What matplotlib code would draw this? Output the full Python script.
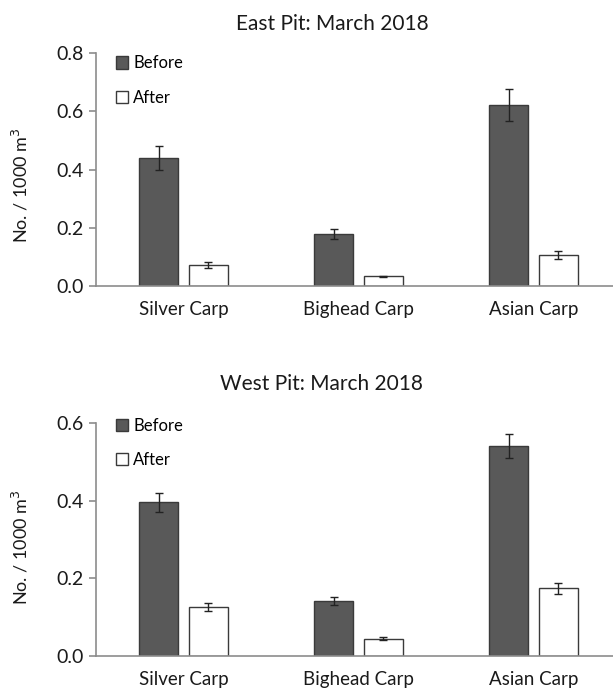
import matplotlib
matplotlib.use("Agg")
import matplotlib.pyplot as plt
import numpy as np
from matplotlib.patches import Patch

plt.rcParams['font.family'] = ['Lato', 'DejaVu Sans']

categories = ["Silver Carp", "Bighead Carp", "Asian Carp"]
series = ["Before", "After"]

east_before = [0.440, 0.179, 0.622]
east_before_err = [0.040, 0.017, 0.055]
east_after = [0.072, 0.033, 0.107]
east_after_err = [0.011, 0.003, 0.015]

west_before = [0.396, 0.142, 0.541]
west_before_err = [0.024, 0.010, 0.031]
west_after = [0.127, 0.045, 0.175]
west_after_err = [0.010, 0.003, 0.014]

titles = ["East Pit: March 2018", "West Pit: March 2018"]
ylims = [0.8, 0.6]
yticks = [[0.0, 0.2, 0.4, 0.6, 0.8], [0.0, 0.2, 0.4, 0.6]]

fig = plt.figure(figsize=(6.13, 6.96), dpi=100)
W, H = 613, 696
axL = 96 / W
axW = (621 - 96) / W
ax1 = fig.add_axes([axL, 1 - 286 / H, axW, (286 - 53.3) / H])
ax2 = fig.add_axes([axL, 1 - 656 / H, axW, (656 - 423.3) / H])

spine_c = "#8c8c8c"
dark = "#595959"
x = np.arange(len(categories))
bw = 0.225
off = 0.142

panels = [
    (ax1, east_before, east_before_err, east_after, east_after_err),
    (ax2, west_before, west_before_err, west_after, west_after_err),
]
title_pads = [17, 24]
title_xs = [0.45, 0.43]
ylabel_ys = [0.432, 0.47]
legend_ys = [1.02, 1.053]
for i, (ax, b, be, a, ae) in enumerate(panels):
    ax.bar(x - off, b, bw, color=dark, edgecolor="#3a3a3a", linewidth=1.0,
           yerr=be, error_kw=dict(ecolor="#222222", elinewidth=1.0, capsize=3, capthick=1.0), zorder=2)
    ax.bar(x + off, a, bw, color="white", edgecolor="#3a3a3a", linewidth=1.0,
           yerr=ae, error_kw=dict(ecolor="#222222", elinewidth=1.0, capsize=3, capthick=1.0), zorder=2)
    ax.set_xlim(-0.5, 2.5)
    ax.set_ylim(0, ylims[i])
    ax.set_yticks(yticks[i])
    ax.set_yticklabels([f"{t:.1f}" for t in yticks[i]])
    ax.set_xticks(x)
    ax.set_xticklabels(categories)
    for s in ["top", "right"]:
        ax.spines[s].set_visible(False)
    for s in ["left", "bottom"]:
        ax.spines[s].set_color(spine_c)
        ax.spines[s].set_linewidth(1.2)
    ax.tick_params(axis="y", direction="out", length=5, width=1.2, color=spine_c,
                   labelsize=14, labelcolor="#1a1a1a", pad=4)
    ax.tick_params(axis="x", length=0, labelsize=13.5, labelcolor="#1a1a1a", pad=11)
    ax.set_ylabel("No. / 1000 m$^3$", fontsize=13, color="#1a1a1a")
    ax.yaxis.set_label_coords(-0.124, ylabel_ys[i])
    ax.set_title(titles[i], fontsize=15, color="#1a1a1a", pad=title_pads[i], x=title_xs[i])
    handles = [Patch(facecolor=dark, edgecolor="#3a3a3a", label=series[0]),
               Patch(facecolor="white", edgecolor="#3a3a3a", label=series[1])]
    ax.legend(handles=handles, loc="upper left", bbox_to_anchor=(0.025, legend_ys[i]), frameon=False,
              fontsize=12, handlelength=0.75, handleheight=0.75, handletextpad=0.3,
              labelspacing=1.1, borderaxespad=0)

fig.savefig("out.png", dpi=100)
